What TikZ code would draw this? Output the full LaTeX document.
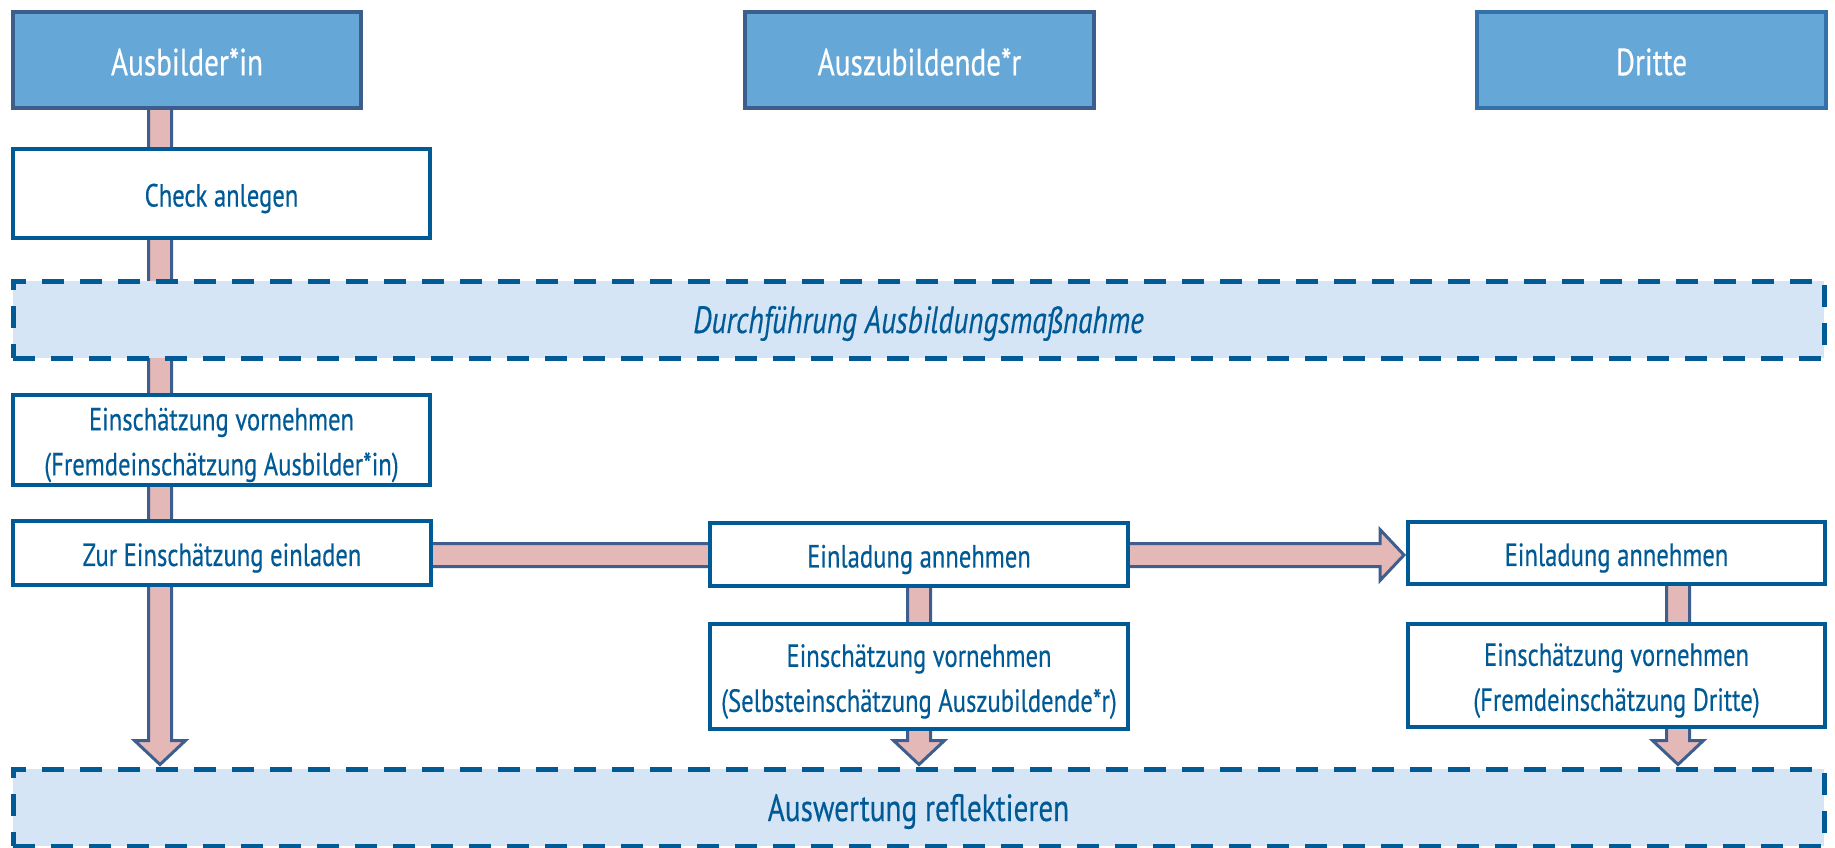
\documentclass[tikz,border=0pt]{standalone}
\usepackage{fontspec}
\setmainfont{PT Sans}[FakeStretch=0.77, FakeBold=0.35]
\usetikzlibrary{calc}
\definecolor{boxblue}{HTML}{005A96}
\definecolor{headfill}{HTML}{65A7D7}
\definecolor{headline}{HTML}{3B5E8C}
\definecolor{headlineb}{HTML}{3471A8}
\definecolor{arrfill}{HTML}{E5B8B8}
\definecolor{arrline}{HTML}{3E5F8E}
\definecolor{bandfill}{HTML}{D5E5F6}
\pgfdeclarelayer{bg}
\pgfsetlayers{bg,main}
\tikzset{
  header/.style={draw=headline, fill=headfill, line width=2pt, inner sep=0pt,
    minimum width=174pt, minimum height=48pt},
  headtext/.style={text=white, font=\fontsize{19}{23}\selectfont, inner sep=0pt, yshift=-1pt},
  stepbox/.style={draw=boxblue, fill=white, line width=2pt, inner sep=0pt, minimum width=208.5pt},
  boxtext/.style={text=boxblue, font=\fontsize{16}{22.5}\selectfont, align=center,
    inner sep=0pt, yshift=-2.5pt},
  band/.style={draw=boxblue, fill=bandfill, line width=2.5pt, dash pattern=on 11pt off 8pt,
    inner sep=0pt, minimum width=905.5pt, minimum height=38.5pt},
  bandtext/.style={text=boxblue, font=\fontsize{19}{23}\selectfont, inner sep=0pt, yshift=-2pt},
  fat/.style={fill=arrfill, draw=arrline, line width=1.5pt, line join=miter}
}
\newcommand\fatdown[2]{%
  \draw[fat] let \p1=(#1), \p2=(#2) in
    (\x1-5.75pt,\y1) -- (\x1-5.75pt,\y2+13pt) -- (\x1-12.75pt,\y2+13pt) -- (\x1,\y2+1pt)
    -- (\x1+12.75pt,\y2+13pt) -- (\x1+5.75pt,\y2+13pt) -- (\x1+5.75pt,\y1) -- cycle;}
\newcommand\fatright[2]{%
  \draw[fat] let \p1=(#1), \p2=(#2) in
    (\x1,\y1+5.75pt) -- (\x2-13pt,\y1+5.75pt) -- (\x2-13pt,\y1+12.75pt) -- (\x2-1pt,\y1)
    -- (\x2-13pt,\y1-12.75pt) -- (\x2-13pt,\y1-5.75pt) -- (\x1,\y1-5.75pt) -- cycle;}
\begin{document}
\begin{tikzpicture}[x=0.5pt,y=-0.5pt]
\useasboundingbox (0,0) rectangle (1835,847);
% headers
\node[header, label={[headtext]center:Ausbilder*in}] (ausb) at (187,60) {};
\node[header, minimum width=174.5pt, label={[headtext]center:Auszubildende*r}] (azubi) at (919.5,60) {};
\node[header, draw=headlineb, minimum width=174.5pt, label={[headtext]center:Dritte}] (dritte) at (1651.5,60) {};
% left column
\node[stepbox, minimum height=44.5pt, label={[boxtext]center:Check anlegen}] (check) at (221.5,193.5) {};
\node[band, label={[bandtext, font=\fontsize{19}{23}\selectfont\itshape]center:Durchführung Ausbildungsmaßnahme}] (durch) at (918.5,319.5) {};
\node[stepbox, minimum height=45pt, label={[boxtext]center:{Einschätzung vornehmen\\(Fremdeinschätzung Ausbilder*in)}}] (einsch1) at (221.5,440) {};
\node[stepbox, minimum width=209pt, minimum height=32pt, label={[boxtext]center:Zur Einschätzung einladen}] (zur) at (222,553) {};
% middle column
\node[stepbox, minimum width=209pt, minimum height=31.5pt, label={[boxtext]center:Einladung annehmen}] (einl2) at (919,554.5) {};
\node[stepbox, minimum width=209pt, minimum height=52.5pt, label={[boxtext]center:{Einschätzung vornehmen\\(Selbsteinschätzung Auszubildende*r)}}] (einsch2) at (919,676.5) {};
% right column
\node[stepbox, minimum height=31pt, label={[boxtext]center:Einladung annehmen}] (einl3) at (1616.5,553) {};
\node[stepbox, minimum height=51.5pt, label={[boxtext]center:{Einschätzung vornehmen\\(Fremdeinschätzung Dritte)}}] (einsch3) at (1616.5,675.5) {};
% bottom band
\node[band, label={[bandtext]center:Auswertung reflektieren}] (ausw) at (918.5,807.5) {};
% arrow positions
\coordinate (xl) at (160,0);
\coordinate (xm) at (919,0);
\coordinate (xr) at (1678,0);
\coordinate (yh) at (0,555);
\begin{pgfonlayer}{bg}
\fatdown{xl |- ausb.center}{xl |- ausw.north}
\fatdown{xm |- einl2.center}{xm |- ausw.north}
\fatdown{xr |- einl3.center}{xr |- ausw.north}
\fatright{zur.center |- yh}{einl3.west |- yh}
\end{pgfonlayer}
\end{tikzpicture}
\end{document}
